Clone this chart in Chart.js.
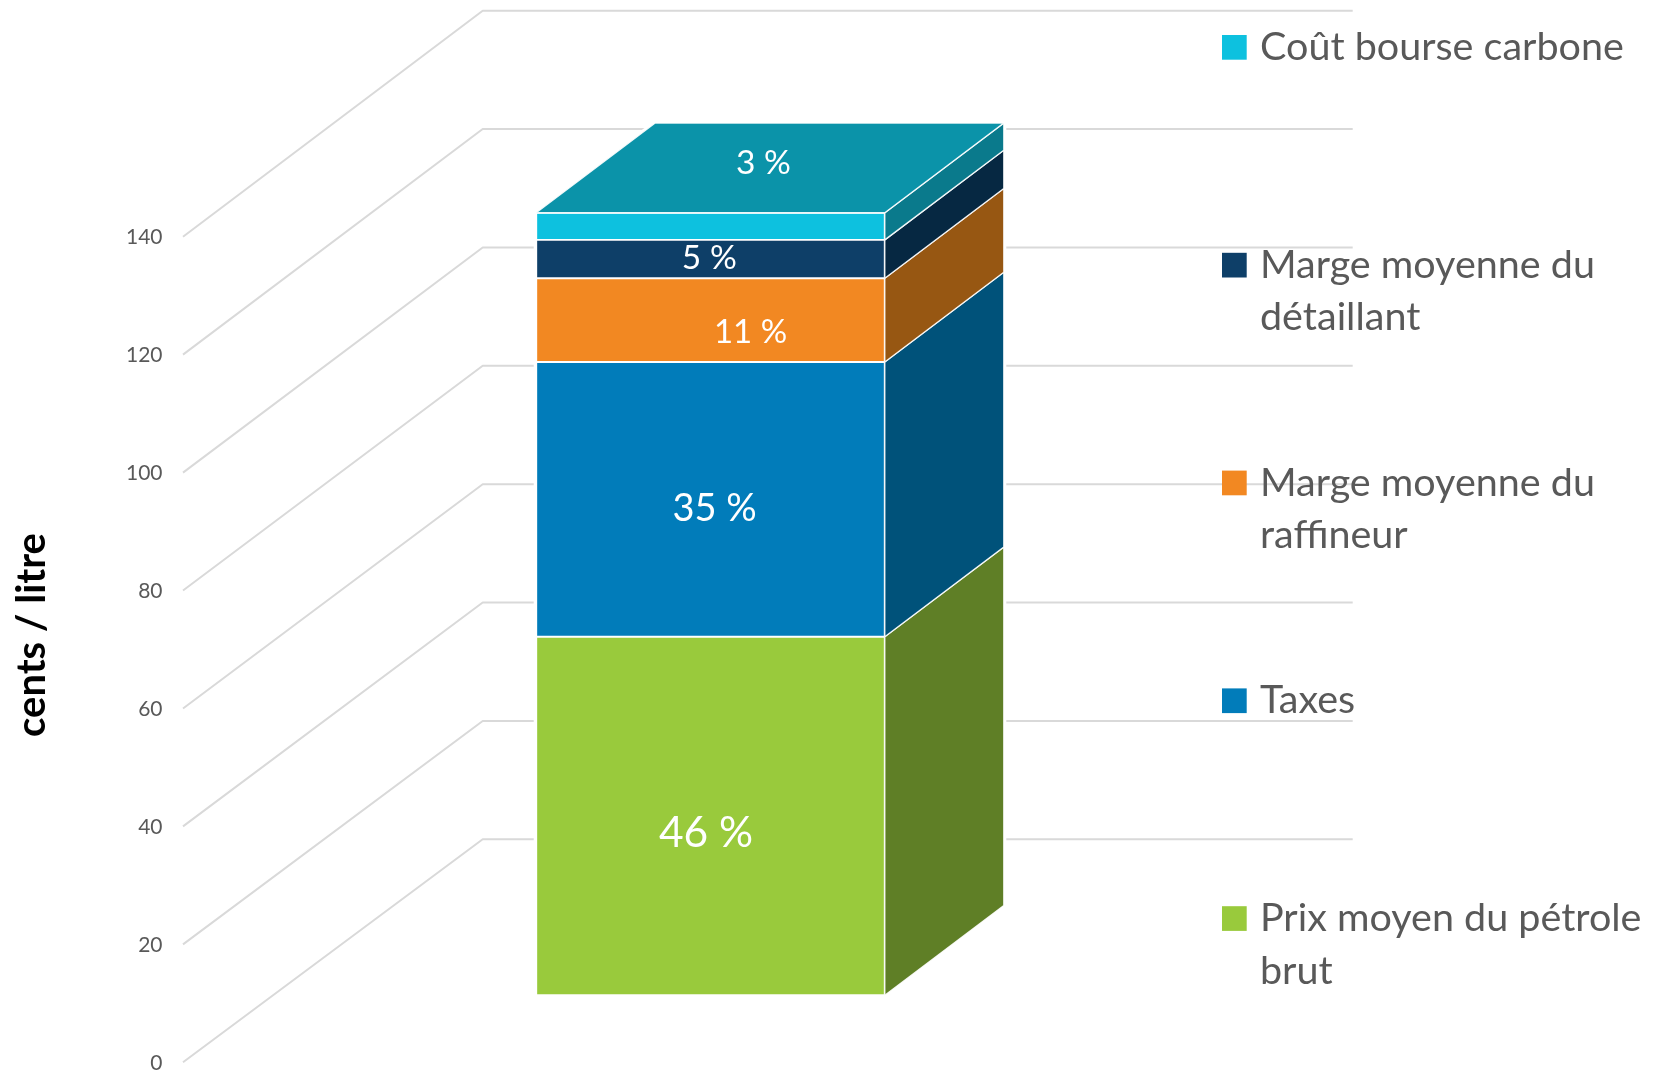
<!DOCTYPE html>
<html>
<head>
<meta charset="utf-8">
<style>html,body{margin:0;padding:0;background:#fff}canvas{display:block}</style>
<script src="https://cdn.jsdelivr.net/npm/chart.js@4"></script>
</head>
<body>
<canvas id="c" width="1655" height="1073"></canvas>
<script>
const categories = ['Prix à la pompe'];
const seriesNames = ['Prix moyen du pétrole brut', 'Taxes', 'Marge moyenne du raffineur', 'Marge moyenne du détaillant', 'Coût bourse carbone'];
const seriesValues = [60.8, 46.6, 14.2, 6.5, 4.6];
const sharePercent = [46, 35, 11, 5, 3];
const frontColors = ['#99CA3C', '#017CBA', '#F28822', '#0E3F68', '#0DC1DF'];
const sideColors = ['#5F7F26', '#00527A', '#975712', '#062842', '#0A7A8C'];
const topColor = '#0B93A9';
const legendLines = [['Coût bourse carbone'], ['Marge moyenne du', 'détaillant'], ['Marge moyenne du', 'raffineur'], ['Taxes'], ['Prix moyen du pétrole', 'brut']];
const legendOrder = [4, 3, 2, 1, 0];
const yTickStep = 20, yMax = 140;

// Styling / projection constants
const FONT = 'Lato, Carlito, sans-serif';
const TEXT = '#595959';
const GRID = '#D9D9D9';
const WALL = { dx: 299.7, dyBottom: 223, dyTop: 226, right: 1352.7 };
const BAR_SHIFT = { x: 92.5, y: -67 };
const BAR_DEPTH = { x: 119, y: 89.7 };
const labelSizes = [42.5, 38, 33, 33.5, 33.5];
const labelCenters = [[706, 833], [714.6, 509], [750.5, 332.8], [709.3, 258], [763.5, 163]];
const LEGEND = { box: 1222, size: 24.7, text: 1260, top: 35, step: 217.8, lineH: 52.5, font: 39.5 };

const stereo = {
  id: 'stereo',
  beforeDraw(chart) {
    const y = chart.scales.y;
    if (!y._shifted) {
      const original = y.drawTitle;
      y.drawTitle = function () {
        chart.ctx.save();
        chart.ctx.translate(-0.7, -14.5);
        original.call(this);
        chart.ctx.restore();
      };
      y._shifted = true;
    }
  },
  beforeDatasetsDraw(chart) {
    const { ctx, scales: { y }, chartArea } = chart;
    ctx.save();
    ctx.strokeStyle = GRID;
    ctx.lineWidth = 2;
    ctx.lineJoin = 'round';
    y.ticks.forEach(t => {
      const py = y.getPixelForValue(t.value);
      const rise = WALL.dyBottom + (WALL.dyTop - WALL.dyBottom) * t.value / yMax;
      ctx.beginPath();
      ctx.moveTo(chartArea.left, py);
      ctx.lineTo(chartArea.left + WALL.dx, py - rise);
      ctx.lineTo(WALL.right, py - rise);
      ctx.stroke();
    });
    // White halo that separates the gridlines from the column
    const metas = chart.data.datasets.map((d, i) => chart.getDatasetMeta(i).data[0]);
    const lo = metas[0], hi = metas[metas.length - 1];
    const xl = hi.x - hi.width / 2 + BAR_SHIFT.x, xr = hi.x + hi.width / 2 + BAR_SHIFT.x;
    const yt = hi.y + BAR_SHIFT.y, yb = lo.base + BAR_SHIFT.y;
    ctx.strokeStyle = '#fff';
    ctx.lineWidth = 5;
    ctx.lineJoin = 'miter';
    ctx.beginPath();
    ctx.moveTo(xl, yb);
    ctx.lineTo(xr + BAR_DEPTH.x, yb - BAR_DEPTH.y);
    ctx.lineTo(xr + BAR_DEPTH.x, yt - BAR_DEPTH.y);
    ctx.lineTo(xl + BAR_DEPTH.x, yt - BAR_DEPTH.y);
    ctx.lineTo(xl, yt);
    ctx.closePath();
    ctx.stroke();
    ctx.restore();
    ctx.save();
    ctx.translate(BAR_SHIFT.x, BAR_SHIFT.y);
  },
  afterDatasetsDraw(chart) {
    const { ctx } = chart;
    ctx.restore();
    const bars = chart.data.datasets.map((d, i) => chart.getDatasetMeta(i).data[0]);
    ctx.save();
    ctx.strokeStyle = 'rgba(255,255,255,0.9)';
    ctx.lineWidth = 1.3;
    ctx.lineJoin = 'miter';
    bars.forEach((b, i) => {
      const xr = b.x + b.width / 2 + BAR_SHIFT.x;
      const yt = b.y + BAR_SHIFT.y, yb = b.base + BAR_SHIFT.y;
      ctx.fillStyle = sideColors[i];
      ctx.beginPath();
      ctx.moveTo(xr, yb);
      ctx.lineTo(xr + BAR_DEPTH.x, yb - BAR_DEPTH.y);
      ctx.lineTo(xr + BAR_DEPTH.x, yt - BAR_DEPTH.y);
      ctx.lineTo(xr, yt);
      ctx.closePath();
      ctx.fill();
      ctx.stroke();
    });
    const t = bars[bars.length - 1];
    const xl = t.x - t.width / 2 + BAR_SHIFT.x, xr = t.x + t.width / 2 + BAR_SHIFT.x, yt = t.y + BAR_SHIFT.y;
    ctx.fillStyle = topColor;
    ctx.beginPath();
    ctx.moveTo(xl, yt);
    ctx.lineTo(xr, yt);
    ctx.lineTo(xr + BAR_DEPTH.x, yt - BAR_DEPTH.y);
    ctx.lineTo(xl + BAR_DEPTH.x, yt - BAR_DEPTH.y);
    ctx.closePath();
    ctx.fill();
    ctx.stroke();

    // Share labels
    ctx.fillStyle = '#fff';
    ctx.textAlign = 'center';
    ctx.textBaseline = 'middle';
    bars.forEach((b, i) => {
      ctx.font = labelSizes[i] + 'px ' + FONT;
      ctx.fillText(sharePercent[i] + ' %', labelCenters[i][0], labelCenters[i][1]);
    });

    // Legend
    ctx.textAlign = 'left';
    ctx.textBaseline = 'alphabetic';
    ctx.font = LEGEND.font + 'px ' + FONT;
    legendOrder.forEach((s, row) => {
      const top = LEGEND.top + row * LEGEND.step;
      ctx.fillStyle = frontColors[s];
      ctx.fillRect(LEGEND.box, top, LEGEND.size, LEGEND.size);
      ctx.fillStyle = TEXT;
      legendLines[row].forEach((line, k) => {
        ctx.fillText(line, LEGEND.text, top + 25 + k * LEGEND.lineH);
      });
    });
    ctx.restore();
  }
};

new Chart(document.getElementById('c'), {
  type: 'bar',
  plugins: [stereo],
  data: {
    labels: categories,
    datasets: seriesNames.map((name, i) => ({
      label: name,
      data: [seriesValues[i]],
      backgroundColor: frontColors[i],
      borderColor: '#fff',
      borderWidth: 1.3,
      borderSkipped: false,
      barThickness: 348.6
    }))
  },
  options: {
    responsive: false,
    animation: false,
    layout: { padding: { top: 236.7, bottom: 10.7, left: 0, right: 602 } },
    plugins: { legend: { display: false }, tooltip: { enabled: false } },
    scales: {
      x: { stacked: true, display: false },
      y: {
        stacked: true,
        min: 0,
        max: yMax,
        afterFit(s) { s.width = 183; },
        grid: { display: false, tickLength: 20.5 },
        border: { display: false },
        ticks: { stepSize: yTickStep, color: TEXT, padding: 0, labelOffset: 1, font: { family: FONT, size: 21, lineHeight: 1 } },
        title: {
          display: true,
          text: 'cents / litre',
          color: '#000',
          padding: 0,
          font: { family: FONT, size: 40, weight: 'bold', lineHeight: 1.615 }
        }
      }
    }
  }
});
</script>
</body>
</html>
